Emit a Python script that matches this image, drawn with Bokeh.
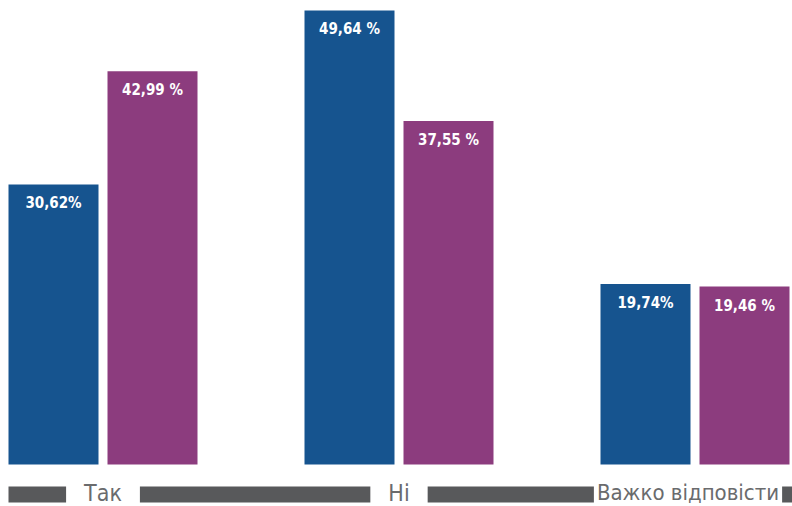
from bokeh.plotting import figure
from bokeh.models import ColumnDataSource, Range1d
from bokeh.core.properties import value
from bokeh.embed import file_html
from bokeh.resources import INLINE

# ---- data ----
categories = ["Так", "Ні", "Важко відповісти"]
series_a = [30.62, 49.64, 19.74]
series_b = [42.99, 37.55, 19.46]
labels_a = ["30,62%", "49,64 %", "19,74%"]
labels_b = ["42,99 %", "37,55 %", "19,46 %"]

# ---- layout constants (pixels) ----
W, H = 792, 506
group_px = 296.0          # distance between category centres
bar_px = 90.0
offset_px = 49.5
first_center_px = 102.5   # centre of first category inside figure
base_px = 464.0           # y of the bars' baseline inside figure
px_per_unit = 9.146

BLUE = "#16548F"
PURPLE = "#8C3C7E"
STRIP = "#58595B"
CAT_TXT = "#6A6B6D"
FONT = "DejaVu Sans Condensed"

x0 = -first_center_px / group_px
x_range = Range1d(x0, x0 + W / group_px)
y_range = Range1d(-(H - base_px) / px_per_unit, base_px / px_per_unit)

p = figure(width=W, height=H, x_range=x_range, y_range=y_range,
           output_backend="svg", toolbar_location=None,
           min_border=0, outline_line_color=None)
p.axis.visible = False
p.grid.visible = False
p.background_fill_color = "white"
p.border_fill_color = "white"

idx = list(range(len(categories)))
off = offset_px / group_px
bw = bar_px / group_px

src = ColumnDataSource(dict(
    xa=[i - off for i in idx], xb=[i + off for i in idx],
    a=series_a, b=series_b, la=labels_a, lb=labels_b,
))

p.vbar(x="xa", top="a", bottom=0, width=bw, source=src, color=BLUE, line_color=None)
p.vbar(x="xb", top="b", bottom=0, width=bw, source=src, color=PURPLE, line_color=None)

for xcol, ycol, lcol in (("xa", "a", "la"), ("xb", "b", "lb")):
    p.text(x=xcol, y=ycol, text=lcol, source=src, y_offset=19,
           text_align="center", text_baseline="middle",
           text_font=value(FONT), text_font_style="bold",
           text_font_size="15px", text_color="white")

# bottom strip with category labels
strip_center = -(494 - base_px) / px_per_unit
strip_h = 16 / px_per_unit
p.hbar(y=strip_center, left=idx[0] - off - bw / 2, right=x_range.end + 1,
       height=strip_h, color=STRIP, line_color=None)

cat_y = -(479 - base_px) / px_per_unit
for sl, pad, size, dx in ((slice(0, 2), 18, "23px", 0), (slice(2, 3), 3, "22px", -7)):
    p.text(x=idx[sl], y=[cat_y] * len(idx[sl]), text=categories[sl],
           text_align="center", text_baseline="top", x_offset=dx,
           text_font=value(FONT), text_font_size=size, text_color=CAT_TXT,
           background_fill_color="white", padding=(pad, 0))

open("out.html", "w").write(file_html(p, INLINE))
